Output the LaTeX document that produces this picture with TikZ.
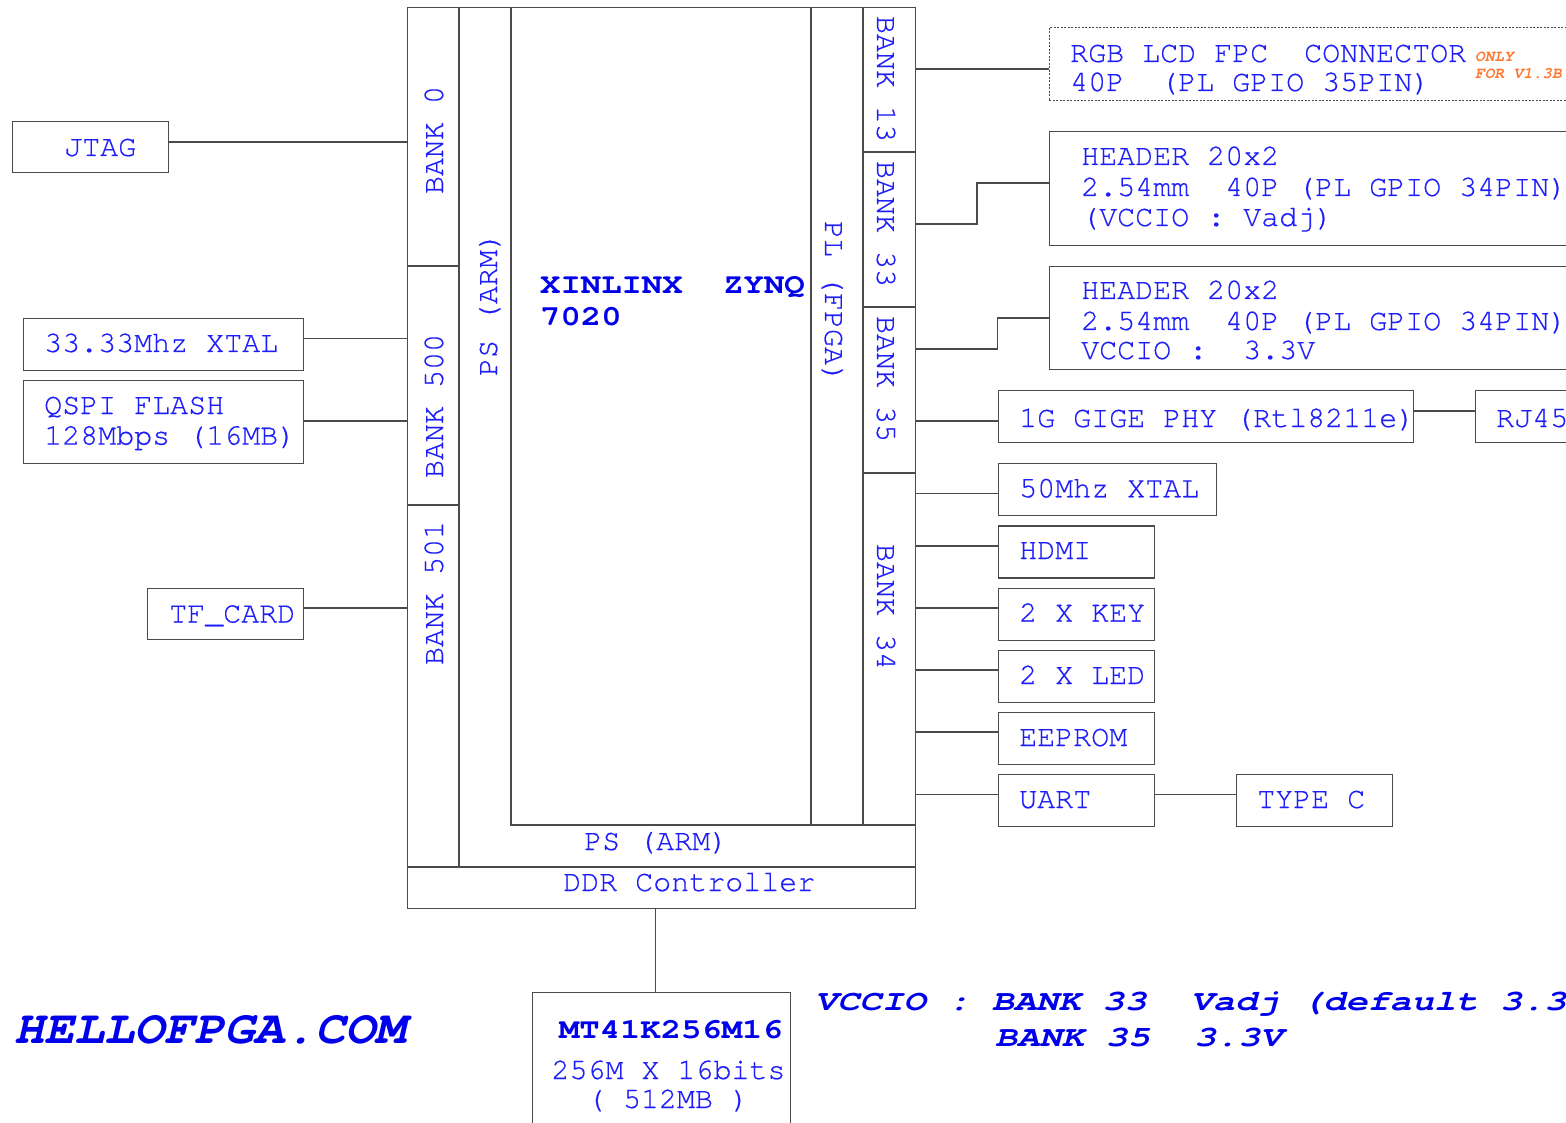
\documentclass[tikz,border=0pt]{standalone}
\usepackage{fontspec}
\newfontfamily\monoA{texgyrecursor}[Extension=.otf, UprightFont=*-regular, BoldFont=*-bold, ItalicFont=*-italic, BoldItalicFont=*-bolditalic, FakeBold=0.5]
\newfontfamily\monoO{texgyrecursor}[Extension=.otf, UprightFont=*-regular, BoldFont=*-bold, ItalicFont=*-italic, BoldItalicFont=*-bolditalic]
\newfontfamily\monoB{texgyrecursor}[Extension=.otf, UprightFont=*-regular, BoldFont=*-bold, ItalicFont=*-italic, BoldItalicFont=*-bolditalic, FakeStretch=1.19]
\newfontfamily\monoC{texgyrecursor}[Extension=.otf, UprightFont=*-regular, BoldFont=*-bold, ItalicFont=*-italic, BoldItalicFont=*-bolditalic, FakeStretch=1.067]
\newfontfamily\monoD{texgyrecursor}[Extension=.otf, UprightFont=*-regular, BoldFont=*-bold, ItalicFont=*-italic, BoldItalicFont=*-bolditalic, FakeStretch=1.27]
\definecolor{linec}{RGB}{75,75,75}
\definecolor{txtblue}{RGB}{30,30,250}
\definecolor{boldblue}{RGB}{0,0,235}
\definecolor{orng}{RGB}{255,120,50}
\newcommand\tnorm{\monoA\fontsize{30}{31}\selectfont}
\newcommand\tbold{\monoB\bfseries\fontsize{28.5}{32}\selectfont}
\newcommand\tlogo{\monoC\bfseries\itshape\fontsize{47}{50}\selectfont}
\newcommand\tvcc{\monoD\bfseries\itshape\fontsize{29}{32}\selectfont}
\newcommand\tonly{\monoO\bfseries\itshape\fontsize{16}{17}\selectfont}
\tikzset{
  wire/.style={draw=linec, line width=1.3pt},
  blk/.style={draw=linec, line width=1.3pt, inner sep=0pt, anchor=north west},
  dblk/.style={draw=linec, line width=0.9pt, dash pattern=on 2pt off 1.5pt, inner sep=0pt, anchor=north west},
  txt/.style={text=txtblue, anchor=base west, inner sep=0pt, font=\tnorm},
  ctxt/.style={text=txtblue, anchor=base, inner sep=0pt, font=\tnorm},
  btxt/.style={text=boldblue, anchor=base west, inner sep=0pt, font=\tbold},
  vtxt/.style={text=txtblue, anchor=base, inner sep=0pt, font=\tnorm},
}
\begin{document}
\begin{tikzpicture}[x=1pt,y=-1pt]
\useasboundingbox[fill=white] (0,0) rectangle (1566,1123);

% ---------- main chip ----------
\node[blk, minimum width=508, minimum height=901] (chip) at (407,7) {};
\draw[wire] (407,867) -- (915,867);
\draw[wire] (459,7) -- (459,867);
\draw[wire] (511,7) -- (511,825) -- (915,825);
\draw[wire] (811,7) -- (811,825);
\draw[wire] (863,7) -- (863,825);
\draw[wire] (407,266) -- (459,266);
\draw[wire] (407,505) -- (459,505);
\draw[wire] (863,152) -- (915,152);
\draw[wire] (863,307) -- (915,307);
\draw[wire] (863,473) -- (915,473);

\node[vtxt, rotate=90] (b0) at (443,140) {BANK 0};
\node[vtxt, rotate=90] (b500) at (443,406) {BANK 500};
\node[vtxt, rotate=90] (b501) at (443,593) {BANK 501};
\node[vtxt, rotate=90] (psv) at (497,304) {PS (ARM)};
\node[vtxt, rotate=-90] (plv) at (825,302) {PL (FPGA)};
\node[vtxt, rotate=-90] (b13) at (877,79) {BANK 13};
\node[vtxt, rotate=-90] (b33) at (877,224) {BANK 33};
\node[vtxt, rotate=-90] (b35) at (877,379) {BANK 35};
\node[vtxt, rotate=-90] (b34) at (877,607) {BANK 34};

\node[btxt] (title1) at (540,293.3) {XINLINX~~ZYNQ};
\node[btxt] (title2) at (540,325) {7020};
\node[txt] (psh) at (584,850) {PS (ARM)};
\node[txt] (ddr) at (563,891) {DDR Controller};

% ---------- left side ----------
\node[blk, minimum width=156, minimum height=51] (jtag) at (12,121) {};
\node[txt] (jtagt) at (64,156) {JTAG};
\node[blk, minimum width=280, minimum height=52] (xtal33) at (23,318) {};
\node[txt] (xtal33t) at (44,352) {33.33Mhz XTAL};
\node[blk, minimum width=280, minimum height=83] (qspi) at (23,380) {};
\node[txt] (qspit1) at (44,414) {QSPI FLASH};
\node[txt] (qspit2) at (44,444.6) {128Mbps (16MB)};
\node[blk, minimum width=156, minimum height=51] (tf) at (147,588) {};
\node[txt] (tft) at (169,622.5) {TF\_CARD};

\draw[wire] (jtag.east |- 0,142) -- (chip.west |- 0,142);
\draw[wire] (xtal33.east |- 0,338.5) -- (chip.west |- 0,338.5);
\draw[wire] (qspi.east |- 0,421) -- (chip.west |- 0,421);
\draw[wire] (tf.east |- 0,608) -- (chip.west |- 0,608);

% ---------- right side ----------
\node[dblk, minimum width=560, minimum height=73] (rgb) at (1049,27) {};
\node[txt] (rgbt1) at (1070,62) {RGB LCD FPC~~CONNECTOR};
\node[txt] (rgbt2) at (1070,91) {40P~~(PL GPIO 35PIN)};
\node[text=orng, anchor=base west, inner sep=0pt, font=\tonly] (only1) at (1475,61.5) {ONLY};
\node[text=orng, anchor=base west, inner sep=0pt, font=\tonly] (only2) at (1475,79) {FOR V1.3B};
\draw[wire] (chip.east |- 0,69) -- (rgb.west |- 0,69);

\node[blk, minimum width=560, minimum height=114] (hdr1) at (1049,131) {};
\node[txt] (hdr1a) at (1081,165) {HEADER 20x2};
\node[txt] (hdr1b) at (1081,196) {2.54mm~~40P (PL GPIO 34PIN)};
\node[txt] (hdr1c) at (1081,226) {(VCCIO : Vadj)};
\draw[wire] (chip.east |- 0,224) -| (977,183) -- (hdr1.west |- 0,183);

\node[blk, minimum width=560, minimum height=103] (hdr2) at (1049,266) {};
\node[txt] (hdr2a) at (1081,299) {HEADER 20x2};
\node[txt] (hdr2b) at (1081,330) {2.54mm~~40P (PL GPIO 34PIN)};
\node[txt] (hdr2c) at (1081,359) {VCCIO :~~3.3V};
\draw[wire] (chip.east |- 0,349) -| (997.5,318) -- (hdr2.west |- 0,318);

\node[blk, minimum width=415, minimum height=52] (phy) at (997.5,390) {};
\node[txt] (phyt) at (1019,427) {1G GIGE PHY (Rtl8211e)};
\node[blk, minimum width=140, minimum height=52] (rj) at (1474.5,390) {};
\node[txt] (rjt) at (1496,427) {RJ45};
\draw[wire] (chip.east |- 0,421) -- (phy.west |- 0,421);
\draw[wire] (phy.east |- 0,411) -- (rj.west |- 0,411);

\node[blk, minimum width=218, minimum height=52] (xtal50) at (997.5,463) {};
\node[txt] (xtal50t) at (1019,497.3) {50Mhz XTAL};
\node[blk, minimum width=156, minimum height=52] (hdmi) at (997.5,525.3) {};
\node[txt] (hdmit) at (1019,559) {HDMI};
\node[blk, minimum width=156, minimum height=52] (key) at (997.5,587.5) {};
\node[txt] (keyt) at (1019,621.7) {2 X KEY};
\node[blk, minimum width=156, minimum height=52] (led) at (997.5,649.5) {};
\node[txt] (ledt) at (1019,684) {2 X LED};
\node[blk, minimum width=156, minimum height=52] (eep) at (997.5,711.7) {};
\node[txt] (eept) at (1019,746) {EEPROM};
\node[blk, minimum width=156, minimum height=52] (uart) at (997.5,773.8) {};
\node[txt] (uartt) at (1019,808) {UART};
\node[blk, minimum width=156, minimum height=52] (typec) at (1236,773.8) {};
\node[txt] (typect) at (1257,808) {TYPE C};

\draw[wire] (chip.east |- 0,493.5) -- (xtal50.west |- 0,493.5);
\draw[wire] (chip.east |- 0,546) -- (hdmi.west |- 0,546);
\draw[wire] (chip.east |- 0,608) -- (key.west |- 0,608);
\draw[wire] (chip.east |- 0,670) -- (led.west |- 0,670);
\draw[wire] (chip.east |- 0,732) -- (eep.west |- 0,732);
\draw[wire] (chip.east |- 0,794.5) -- (uart.west |- 0,794.5);
\draw[wire] (uart.east |- 0,794.5) -- (typec.west |- 0,794.5);

% ---------- DDR memory ----------
\node[blk, minimum width=258, minimum height=160] (mt) at (531.5,992) {};
\draw[wire] (chip.south -| 655.5,0) -- (mt.north -| 655.5,0);
\node[text=boldblue, anchor=base, inner sep=0pt, font=\tbold] (mtt1) at (671,1038.3) {MT41K256M16};
\node[ctxt] (mtt2) at (668.5,1079) {256M X 16bits};
\node[ctxt] (mtt3) at (668,1108) {( 512MB )};

% ---------- footer texts ----------
\node[text=boldblue, anchor=base west, inner sep=0pt, font=\tlogo] (logo) at (14,1043) {HELLOFPGA.COM};
\node[text=boldblue, anchor=base west, inner sep=0pt, font=\tvcc] (vcc1) at (815,1010) {VCCIO~:~BANK~33~~Vadj~(default~3.3V)};
\node[text=boldblue, anchor=base west, inner sep=0pt, font=\tvcc] (vcc2) at (995,1046) {BANK~35~~3.3V};
\end{tikzpicture}
\end{document}
